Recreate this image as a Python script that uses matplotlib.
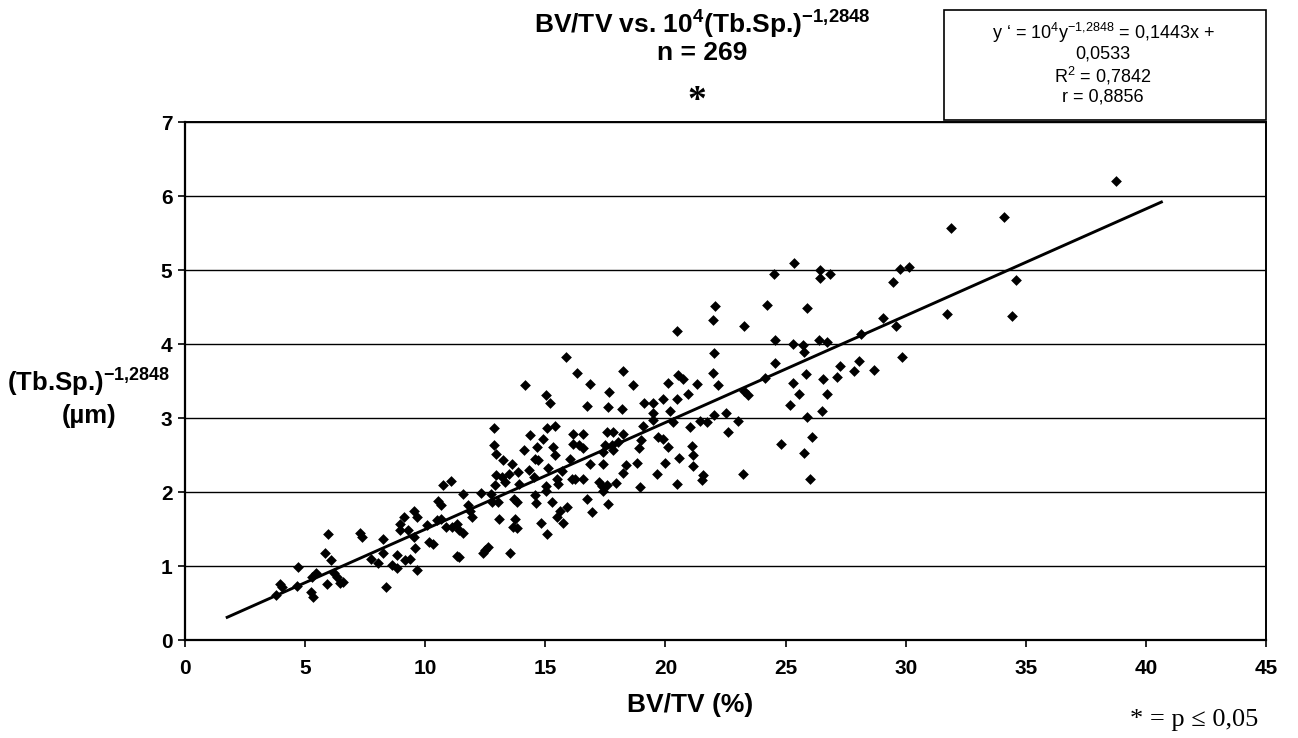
import numpy as np
import matplotlib
matplotlib.use("Agg")
import matplotlib.pyplot as plt
from matplotlib import patches

plt.rcParams["font.family"] = "Liberation Sans"
plt.rcParams["mathtext.fontset"] = "custom"
plt.rcParams["mathtext.rm"] = "Liberation Sans"
plt.rcParams["mathtext.it"] = "Liberation Sans"
plt.rcParams["mathtext.bf"] = "Liberation Sans:bold"

# BV/TV (%) for each sample
bvtv = [3.78, 3.95, 4.03, 4.72, 4.68, 5.23, 5.34, 5.27, 5.45, 5.90, 5.83, 5.94, 6.07, 6.20, 6.31, 6.45, 6.56,
        7.29, 7.36, 7.73, 8.05, 8.24, 8.35, 8.26, 8.63, 8.84, 8.84, 8.95, 8.95, 9.12, 9.27, 9.16, 9.37, 9.55,
        9.67, 9.55, 9.58, 9.65, 10.06, 10.17, 10.31, 10.48, 10.55,
        10.64, 10.64, 10.75, 11.06, 10.87, 11.10, 11.34, 11.42, 11.59, 11.31, 11.42, 11.59, 11.80, 11.86, 11.94,
        12.31, 12.49, 12.63, 12.42, 12.73, 12.77, 12.91, 12.95, 12.86, 12.86, 12.95, 13.04, 13.07, 13.18, 13.25,
        13.32, 13.50, 13.53, 13.60, 13.74, 13.70, 13.81, 13.84, 13.67, 13.88, 13.92, 14.11, 14.15, 14.36, 14.33,
        14.53, 14.57, 14.61, 14.57, 14.67, 14.71, 14.81, 14.92, 15.03, 15.20, 15.06, 15.03, 15.03, 15.06, 15.12,
        15.26, 15.33, 15.40, 15.40, 15.47, 15.47, 15.54, 15.68, 15.72, 15.61, 15.86, 15.89, 16.03, 16.10, 16.17,
        16.17, 16.24, 16.33, 16.42, 16.56, 16.58, 16.58, 16.72, 16.75, 16.84, 16.86, 16.93, 17.25, 17.35, 17.39,
        17.39, 17.39, 17.49, 17.56, 17.62, 17.62, 17.67, 17.58, 17.76, 17.83, 17.83, 17.94, 18.04, 18.18, 18.22,
        18.22, 18.22, 18.36, 18.66, 18.80, 18.94, 18.91, 18.97, 19.05, 19.11, 19.50, 19.50, 19.50, 19.66, 19.70,
        19.89, 19.89, 19.98, 20.12, 20.12, 20.19, 20.33, 20.47, 20.47, 20.54, 20.58,
        20.50, 20.74, 20.95, 21.02, 21.09, 21.14, 21.14, 21.30, 21.44, 21.51, 21.58, 21.74, 21.97, 22.06, 21.97,
        22.02, 22.02, 22.20, 22.52, 22.62, 23.03, 23.22, 23.27, 23.27, 23.45, 24.15, 24.24, 24.56, 24.56, 24.52,
        24.80, 25.19, 25.30, 25.32, 25.37, 25.57, 25.74, 25.78, 25.78, 25.85, 25.88, 25.88, 26.02, 26.12, 26.41,
        26.44, 26.44, 26.51, 26.55, 26.74, 26.74, 26.85, 27.13, 27.27, 27.86, 28.07, 28.14, 28.68,
        29.07, 29.46, 29.60, 29.77, 29.86, 30.15, 31.74, 31.88, 34.08, 34.44, 34.60, 38.76]

# 10^4 (Tb.Sp.)^-1,2848 for each sample
tbsp = [0.61, 0.76, 0.72, 0.98, 0.73, 0.65, 0.58, 0.85, 0.90, 0.76, 1.18, 1.43, 1.08, 0.90, 0.85, 0.77, 0.79,
        1.45, 1.39, 1.10, 1.04, 1.37, 0.72, 1.17, 1.01, 0.97, 1.15, 1.48, 1.57, 1.66, 1.49, 1.08, 1.10, 1.75,
        1.66, 1.39, 1.25, 0.94, 1.55, 1.33, 1.30, 1.62, 1.88,
        1.82, 1.63, 2.09, 2.15, 1.53, 1.53, 1.57, 1.48, 1.44, 1.13, 1.12, 1.97, 1.82, 1.75, 1.66,
        1.98, 1.21, 1.26, 1.18, 1.97, 1.87, 2.10, 2.23, 2.63, 2.87, 2.52, 1.87, 1.63, 2.20, 2.43,
        2.14, 2.25, 1.18, 2.38, 1.64, 1.91, 1.87, 1.52, 1.53, 2.27, 2.11, 2.57, 3.44, 2.77, 2.30,
        2.20, 1.96, 1.85, 2.44, 2.61, 2.43, 1.58, 2.72, 3.31, 3.20, 2.86, 2.08, 2.01, 1.43, 2.32,
        1.87, 2.61, 2.89, 2.50, 2.18, 1.66, 2.11, 2.29, 1.58, 1.75, 3.82, 1.80, 2.45, 2.18, 2.79,
        2.65, 2.18, 3.61, 2.63, 2.79, 2.59, 2.18, 1.90, 3.16, 3.46, 2.38, 1.73, 2.14, 2.08, 2.38,
        2.02, 2.54, 2.63, 2.09, 1.84, 3.15, 3.35, 2.81, 2.63, 2.81, 2.57, 2.12, 2.68, 3.12, 3.63,
        2.78, 2.26, 2.36, 3.44, 2.39, 2.07, 2.59, 2.70, 2.89, 3.20, 3.20, 3.07, 2.97, 2.24, 2.75,
        2.72, 3.26, 2.39, 3.47, 2.61, 3.10, 2.95, 3.26, 2.11, 3.58, 2.46,
        4.18, 3.53, 3.32, 2.88, 2.62, 2.50, 2.35, 3.46, 2.96, 2.16, 2.23, 2.95, 4.33, 4.51, 3.61,
        3.88, 3.04, 3.44, 3.07, 2.81, 2.96, 2.24, 4.25, 3.37, 3.31, 3.54, 4.53, 3.74, 4.05, 4.94,
        2.65, 3.18, 4.00, 3.47, 5.09, 3.33, 3.98, 3.89, 2.53, 3.59, 4.49, 3.02, 2.17, 2.75, 4.05,
        5.00, 4.89, 3.10, 3.53, 3.33, 4.03, 4.94, 3.56, 3.70, 3.63, 3.77, 4.14, 3.65,
        4.35, 4.84, 4.25, 5.02, 3.82, 5.04, 4.40, 5.57, 5.72, 4.38, 4.86, 6.20]

# Linear trend: y = 0.1443 x + 0.0533
slope = 0.1443
intercept = 0.0533
trend_x = [1.7, 40.7]

x_ticks = [0, 5, 10, 15, 20, 25, 30, 35, 40, 45]
y_ticks = [0, 1, 2, 3, 4, 5, 6, 7]

W, H = 1298, 738
fig = plt.figure(figsize=(W / 100, H / 100), dpi=100)
fig.set_facecolor("white")


def fx(px):
    return px / W


def fy(py):
    return 1 - py / H


ax = fig.add_axes([fx(185), fy(640), (1266 - 185) / W, (640 - 122) / H])

ax.scatter(bvtv, tbsp, marker="D", s=30, color="black", linewidths=0, zorder=3)
tx = np.array(trend_x)
ax.plot(tx, slope * tx + intercept, color="black", lw=2.1, zorder=4, solid_capstyle="butt")

ax.set_xlim(0, 45)
ax.set_ylim(0, 7)
ax.set_xticks(x_ticks)
ax.set_yticks(y_ticks)
ax.set_xticklabels([str(t) for t in x_ticks], fontsize=15, fontweight="bold")
ax.set_yticklabels([str(t) for t in y_ticks], fontsize=15, fontweight="bold")
ax.tick_params(direction="out", length=5, width=1.2, pad=4)
ax.tick_params(axis="x", pad=9)
ax.grid(axis="y", color="black", lw=1.0)
ax.set_axisbelow(True)
for side in ["left", "bottom"]:
    ax.spines[side].set_linewidth(1.6)
for side in ["top", "right"]:
    ax.spines[side].set_linewidth(1.4)

# Title lines
fig.text(fx(702), fy(25), r"BV/TV vs. 10$^{\mathbf{4}}$(Tb.Sp.)$^{\mathbf{-1{,}2848}}$",
         ha="center", va="center", fontsize=19, fontweight="bold")
fig.text(fx(702), fy(53), "n = 269", ha="center", va="center", fontsize=19, fontweight="bold")
fig.text(fx(697), fy(101), "*", ha="center", va="center", fontsize=27, fontweight="bold",
         family="Liberation Serif")

# Regression box
fig.add_artist(patches.Rectangle((fx(944), fy(120)), (1266 - 944) / W, (120 - 10) / H,
                                 transform=fig.transFigure, fill=False, lw=1.2, ec="black"))
box_lines = [r"y ‘ = 10$^4$y$^{-1{,}2848}$ = 0,1443x +", "0,0533", r"R$^2$ = 0,7842", "r = 0,8856"]
for i, line in enumerate(box_lines):
    fig.text(fx(1103), fy(33 + 21.3 * i), line, ha="center", va="center", fontsize=13)

# Axis labels
fig.text(fx(89), fy(383), r"(Tb.Sp.)$^{\mathbf{-1{,}2848}}$", ha="center", va="center",
         fontsize=18.5, fontweight="bold")
fig.text(fx(89), fy(416), "(µm)", ha="center", va="center", fontsize=18.5, fontweight="bold")
fig.text(fx(690), fy(705), "BV/TV (%)", ha="center", va="center", fontsize=19, fontweight="bold")

# Significance note
fig.text(fx(1194), fy(720), "* = p ≤ 0,05", ha="center", va="center", fontsize=19,
         family="Liberation Serif")

fig.savefig("out.png", dpi=100)
